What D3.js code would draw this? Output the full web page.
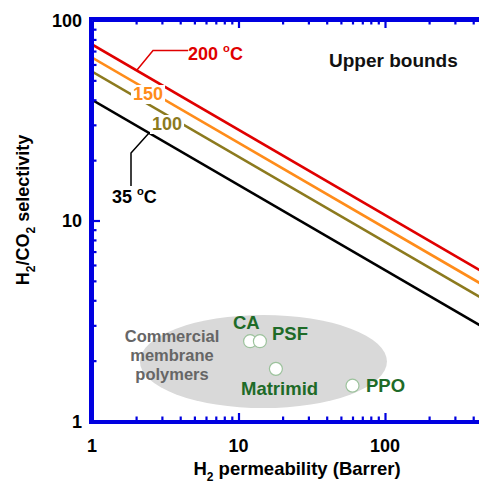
<!DOCTYPE html>
<html><head><meta charset="utf-8">
<script src="https://cdn.jsdelivr.net/npm/d3@7"></script>
<style>
body{margin:0;background:#fff;overflow:hidden}
svg{display:block;font-family:"Liberation Sans",Arial,sans-serif;font-weight:bold}
</style></head>
<body><svg id="c" width="479" height="484"></svg>
<script>
// ---- data ----
const boundTemps = ["35 °C", "100", "150", "200 °C"];
const boundP = [1, 1000];
const bound35 = [40.0, 2.13];
const bound100 = [55.3, 2.94];
const bound150 = [65.0, 3.45];
const bound200 = [75.5, 4.0];
const polymers = ["CA", "PSF", "Matrimid", "PPO"];
const polyP = [12, 14, 18, 60];
const polySel = [2.5, 2.5, 1.82, 1.5];
const xTickLabels = [1, 10, 100];
const yTickLabels = [1, 10, 100];

// ---- layout ----
const svg = d3.select("#c");
const L = 92, T = 20, B = 421;
const x = d3.scaleLog().domain([1, 500]).range([L, L + 146.5 * Math.log10(500)]);
const y = d3.scaleLog().domain([1, 100]).range([B, T]);
const R = x.range()[1];
const blue = "#0000e0";

// ellipse (commercial polymers region)
svg.append("ellipse")
  .attr("cx", x(14.8)).attr("cy", y(1.98))
  .attr("rx", 123.5).attr("ry", 46.5)
  .attr("fill", "#d9d9d9");

svg.append("g").attr("fill", "#666666").attr("font-size", 16.5).attr("text-anchor", "middle")
  .selectAll("text").data(["Commercial", "membrane", "polymers"]).join("text")
  .attr("x", 172).attr("y", (d, i) => 342 + i * 19).text(d => d);

// bound lines
const colors = ["#000000", "#8c7a1e", "#ff8c1a", "#e00000"];
const bounds = [bound35, bound100, bound150, bound200];
svg.append("clipPath").attr("id", "pc").append("rect")
  .attr("x", L).attr("y", T).attr("width", R - L).attr("height", B - T);
const lineG = svg.append("g").attr("clip-path", "url(#pc)");
bounds.forEach((b, i) => {
  const pts = boundP.map((p, j) => [x(p), y(b[j])]);
  lineG.append("path").attr("d", d3.line()(pts))
    .attr("stroke", colors[i]).attr("stroke-width", 2.6).attr("fill", "none");
});

// leaders
svg.append("path").attr("d", "M137,70 L153,50.5 L188,50.5")
  .attr("stroke", "#e00000").attr("stroke-width", 1.5).attr("fill", "none");
svg.append("path").attr("d", "M149,133 L131,153 L131,186")
  .attr("stroke", "#000").attr("stroke-width", 1.5).attr("fill", "none");

function label(txt, px, py, col, size, sup, bg) {
  const t = svg.append("text").attr("x", px).attr("y", py).attr("fill", col).attr("font-size", size);
  if (sup) {
    t.append("tspan").text(txt.split(" ")[0] + " ");
    t.append("tspan").attr("font-size", size * 0.62).attr("dy", -size * 0.42).text("o");
    t.append("tspan").attr("dy", size * 0.42).text("C");
  } else t.text(txt);
  if (bg) {
    const bb = t.node().getBBox();
    svg.insert("rect", () => t.node())
      .attr("x", bb.x - 2).attr("y", bb.y + 1).attr("width", bb.width + 4).attr("height", bb.height - 1)
      .attr("fill", "#fff");
  }
  return t;
}
label(boundTemps[3], 188, 60, colors[3], 18, true, false);
label(boundTemps[2], 133, 100, colors[2], 18, false, true);
label(boundTemps[1], 152, 130, colors[1], 18, false, true);
label(boundTemps[0], 112, 203, colors[0], 18, true, false);

svg.append("text").attr("x", 329).attr("y", 67).attr("font-size", 19).attr("fill", "#111").text("Upper bounds");

// points
const green = "#1e6b28";
svg.append("g").selectAll("circle").data(polymers).join("circle")
  .attr("cx", (d, i) => x(polyP[i])).attr("cy", (d, i) => y(polySel[i]))
  .attr("r", 6.5).attr("fill", "#fff").attr("stroke", "#9cc29c").attr("stroke-width", 1.2);
const polyLab = [[233, 329], [272, 340], [241, 395], [366, 392]];
svg.append("g").attr("fill", green).attr("font-size", 18.5)
  .selectAll("text").data(polymers).join("text")
  .attr("x", (d, i) => polyLab[i][0]).attr("y", (d, i) => polyLab[i][1]).text(d => d);

// axes
const minors = [];
for (let d = 1; d <= 100; d *= 10) for (let k = 2; k <= 9; k++) minors.push(d * k);
const xMin = minors.filter(v => v < 500), yMin = minors.filter(v => v < 100);
function ax(gen, scale, vals, size, tr) {
  const g = svg.append("g").attr("transform", tr)
    .call(gen(scale).tickValues(vals).tickSizeInner(-size).tickSizeOuter(0).tickFormat(""));
  g.selectAll("path.domain").attr("stroke", blue).attr("stroke-width", 3);
  g.selectAll(".tick line").attr("stroke", blue).attr("stroke-width", 2.2);
  return g;
}
ax(d3.axisBottom, x, xMin, 4.5, `translate(0,${B})`);
ax(d3.axisBottom, x, [10, 100], 8, `translate(0,${B})`);
ax(d3.axisTop, x, xMin, 4.5, `translate(0,${T})`);
ax(d3.axisTop, x, [10, 100], 8, `translate(0,${T})`);
ax(d3.axisLeft, y, yMin, 4.5, `translate(${L},0)`);
ax(d3.axisLeft, y, [10], 8, `translate(${L},0)`);
ax(d3.axisRight, y, yMin, 4.5, `translate(${R},0)`);
ax(d3.axisRight, y, [10], 8, `translate(${R},0)`);
svg.append("rect").attr("x", L - 1.5).attr("y", T - 1.5).attr("width", R - L + 3).attr("height", B - T + 3)
  .attr("fill", "none").attr("stroke", blue).attr("stroke-width", 3);

// tick labels
svg.append("g").attr("font-size", 18).attr("text-anchor", "middle").selectAll("text")
  .data(xTickLabels).join("text").attr("x", d => x(d)).attr("y", 452).text(d => d);
svg.append("g").attr("font-size", 18).attr("text-anchor", "end").selectAll("text")
  .data(yTickLabels).join("text").attr("x", 82).attr("y", d => y(d) + 6.5).text(d => d);

// axis titles
const xt = svg.append("text").attr("x", 297).attr("y", 475).attr("font-size", 18.5).attr("text-anchor", "middle");
xt.append("tspan").text("H");
xt.append("tspan").attr("font-size", 12).attr("dy", 6).text("2");
xt.append("tspan").attr("dy", -6).text(" permeability (Barrer)");
const yt = svg.append("text").attr("transform", "translate(29,210) rotate(-90)").attr("font-size", 18).attr("text-anchor", "middle");
yt.append("tspan").text("H");
yt.append("tspan").attr("font-size", 12).attr("dy", 6).text("2");
yt.append("tspan").attr("dy", -6).text("/CO");
yt.append("tspan").attr("font-size", 12).attr("dy", 6).text("2");
yt.append("tspan").attr("dy", -6).text(" selectivity");
</script></body></html>
